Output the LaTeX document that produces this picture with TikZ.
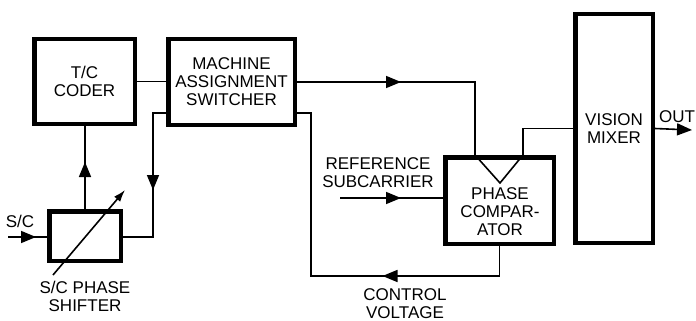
\documentclass[tikz,border=0pt]{standalone}
\usepackage{fontspec}
\setmainfont{Liberation Sans}
\usetikzlibrary{arrows.meta,calc,decorations.markings}

\begin{document}
\begin{tikzpicture}[x=1pt,y=-1pt,
  block/.style={draw, line width=4.5pt, inner sep=0pt, align=center},
  wire/.style={line width=1.6pt},
  lbl/.style={align=center, inner sep=0pt},
  midarrow/.style={postaction={decorate}, decoration={markings,
      mark=at position #1 with {\arrow{Triangle[length=15pt,width=12pt]}}}},
  font=\fontsize{17}{18}\selectfont]
\useasboundingbox (0,0) rectangle (696,321);

% blocks
\node[block, minimum width=100.5pt, minimum height=84.5pt] (coder) at (84.5,81.5) {T/C\\CODER};
\node[block, minimum width=126.5pt, minimum height=85.5pt] (mas) at (231.5,82) {MACHINE\\ASSIGNMENT\\SWITCHER};
\node[block, minimum width=71.5pt, minimum height=49.5pt] (ps) at (85,236) {};
\node[block, minimum width=108.5pt, minimum height=86.5pt] (pc) at (499.5,200.5) {};
\node[lbl] (pctxt) at (500,212) {PHASE\\COMPAR-\\ATOR};
\node[block, minimum width=77.5pt, minimum height=228.5pt] (vm) at (614,128.5) {VISION\\MIXER};

% labels
\node[lbl] (sclbl) at (20,221) {S/C};
\node[lbl] (pslbl) at (85,296.5) {S/C PHASE\\SHIFTER};
\node[lbl] (reflbl) at (378,173) {REFERENCE\\SUBCARRIER};
\node[lbl] (cvlbl) at (405,304) {CONTROL\\VOLTAGE};
\node[lbl] (outlbl) at (677,117) {OUT};

% free ends and corners
\coordinate (scin) at (8,237);
\coordinate (refin) at (340,198);
\coordinate (out) at (692,130);
\coordinate (mL) at (153,113);
\coordinate (mLb) at (153,237);
\coordinate (mR) at (311,113);
\coordinate (cvR) at (311,276);
\coordinate (dA) at (53,275);
\coordinate (dB) at (125,190);
\coordinate (triL) at ($(pc.north)+(-24.5,0)$);
\coordinate (triR) at ($(pc.north)+(23.5,0)$);
\coordinate (triC) at ($(pc.north)+(0.5,28)$);

% comparator input triangle
\draw[wire] (triL) -- (triC) -- (triR);

% connectors
\draw[wire] (coder.east) -- (coder.east -| mas.west);
\draw[wire, midarrow=90pt] (mL -| mas.west) -- (mL) -- (mLb) -- (mLb -| ps.east);
\draw[wire, midarrow=47pt] (ps.north) -- (ps.north |- coder.south);
\draw[wire, midarrow=28pt] (scin) -- (scin -| ps.west);
\draw[wire, -{Latex[length=12pt,width=8pt]}] (dA) -- (dB);
\draw[wire, midarrow=104pt] (mas.east) -| (triL);
\draw[wire, midarrow=147pt] (pc.south) |- (cvR) -- (mR) -- (mR -| mas.east);
\draw[wire] (triR) |- (vm.west);
\draw[wire, -{Triangle[length=15pt,width=12pt]}] (vm.east) -- (out);
\draw[wire, midarrow=61pt] (refin) -- (refin -| pc.west);
\end{tikzpicture}
\end{document}
